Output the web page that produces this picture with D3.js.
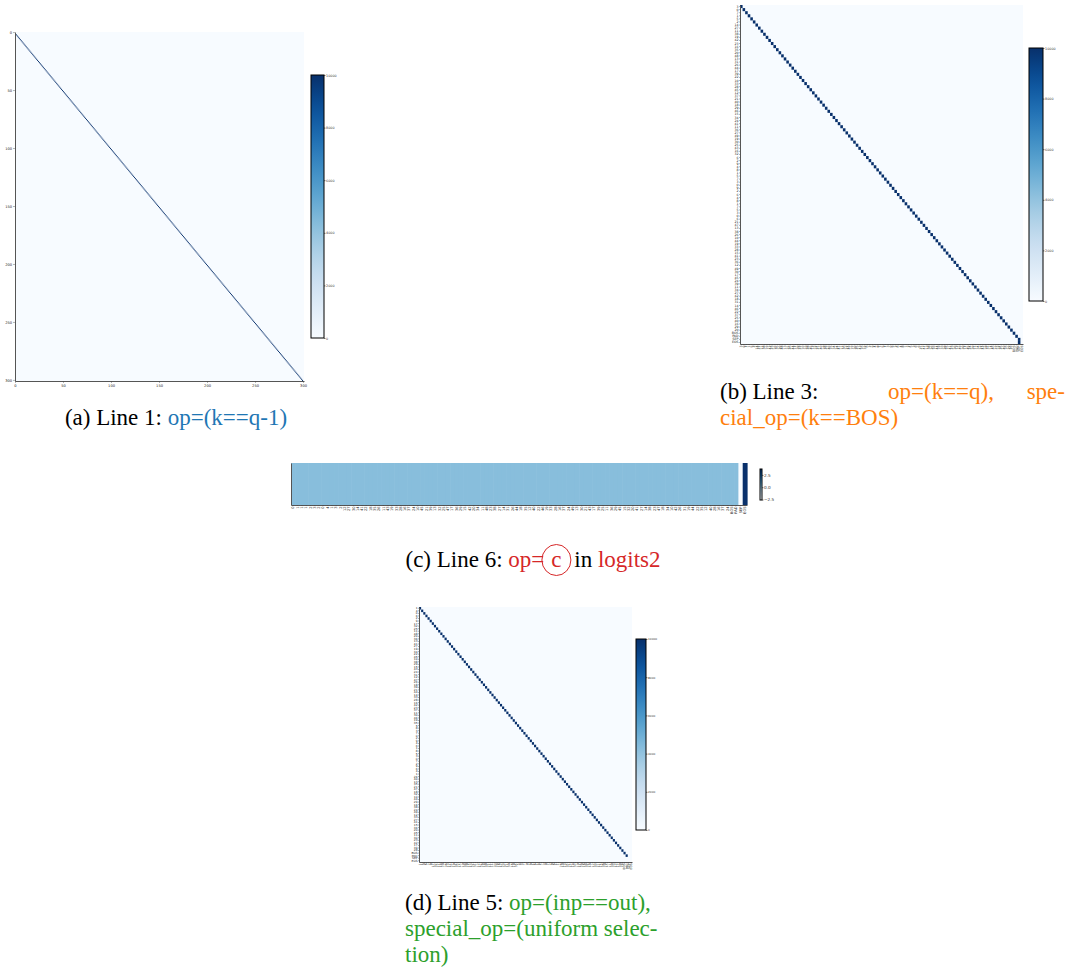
<!DOCTYPE html>
<html lang="en">
  <head>
    <meta charset="utf-8" />
    <title>Attention maps of the learned program</title>
    <script src="https://d3js.org/d3.v7.min.js"></script>
    <style type="text/css">
      body {
        margin: 0;
        background: #fff;
      }
      .cap {
        font-family: "Liberation Serif", "Times New Roman", serif;
        font-size: 23px;
        fill: #000;
      }
    </style>
  </head>
  <body>
    <script type="text/javascript">
      // ---------- data ----------
      // (a) 301 positions, every query q attends to key q-1
      const sizeA = 301;
      const shiftA = -1;
      const peakA = 10000;
      const ticksA = [0, 50, 100, 150, 200, 250, 300];
      const barTicks = [0, 2000, 4000, 6000, 8000, 10000];

      // (b) token labels, diagonal k==q and BOS fallback cell
      const tokensB = ("3 0 7 1 5 2 " +
        "14 27 11 38 19 42 23 16 35 20 48 13 31 26 44 17 39 22 10 33 28 45 12 37 21 40 18 29 46 15 34 24 41 11 36 27 49 19 30 25 43 16 32 " +
        "6 2 9 4 8 1 5 7 3 0 9 2 6 4 8 1 7 5 3 0 6 " +
        "21 47 13 38 26 10 44 19 33 28 15 41 23 36 12 49 30 17 45 24 39 11 34 27 42 18 31 14 46 22 37 25 40 16 29 20 " +
        "BOS PAD SEP EOS").split(" ");
      const diagLastB = 108;
      const extraB = [[109, 108, 10000]]; // [row, col, value]

      // (c) one row of logits
      const tokensC = ("0 1 1 1 2 3 2 0 4 1 3 2 " +
        "12 27 30 14 41 22 18 35 26 11 43 19 33 28 16 37 24 10 45 21 39 13 32 25 47 17 36 29 15 42 " +
        "20 34 11 48 23 38 27 14 31 26 44 18 35 12 40 22 46 19 33 28 16 37 24 49 13 30 21 43 17 39 " +
        "25 11 36 29 45 15 32 20 41 27 14 38 23 47 18 34 10 42 26 31 19 44 22 35 12 40 28 16 37 24 " +
        "BOS PAD SEP EOS").split(" ");
      const logitsC = [
        0.1, 0.1, 0.1, 0.1, 0.1, 0.1, 0.1, 0.1, 0.1, 0.1,
        0.1, 0.1, 0.1, 0.1, 0.1, 0.1, 0.1, 0.1, 0.1, 0.1,
        0.1, 0.1, 0.1, 0.1, 0.1, 0.1, 0.1, 0.1, 0.1, 0.1,
        0.1, 0.1, 0.1, 0.1, 0.1, 0.1, 0.1, 0.1, 0.1, 0.1,
        0.1, 0.1, 0.1, 0.1, 0.1, 0.1, 0.1, 0.1, 0.1, 0.1,
        0.1, 0.1, 0.1, 0.1, 0.1, 0.1, 0.1, 0.1, 0.1, 0.1,
        0.1, 0.1, 0.1, 0.1, 0.1, 0.1, 0.1, 0.1, 0.1, 0.1,
        0.1, 0.1, 0.1, 0.1, 0.1, 0.1, 0.1, 0.1, 0.1, 0.1,
        0.1, 0.1, 0.1, 0.1, 0.1, 0.1, 0.1, 0.1, 0.1, 0.1,
        0.1, 0.1, 0.1, 0.1, 0.1, 0.1, 0.1, 0.1, 0.1, 0.1,
        0.1, 0.1, 0.1, 0.1, -2.6, 3.7
      ];
      const rangeC = [-2.6, 3.7];
      const barTicksC = [-2.5, 0, 2.5];

      // (d) token labels, diagonal inp==out
      const tokensD = ("1 4 0 6 2 9 " +
        "17 32 25 11 48 20 36 13 41 27 19 34 22 45 10 38 29 15 43 24 31 12 47 26 18 39 21 44 14 33 28 16 42 23 37 11 30 46 19 35 " +
        "5 8 3 7 0 2 9 4 6 1 8 5 3 0 7 2 9 6 4 1 " +
        "26 40 13 35 21 47 18 32 10 44 29 16 38 24 49 12 33 27 41 15 36 20 45 11 30 23 42 17 39 28 " +
        "BOS PAD SEP EOS").split(" ");
      const diagLastD = 97;

      // ---------- helpers ----------
      const svg = d3.select("body").append("svg").attr("width", 1070).attr("height", 970);
      const defs = svg.append("defs");
      const tickFont = "DejaVu Sans";

      function styleAxis(g, fs) {
        g.attr("font-size", fs).attr("font-family", tickFont);
        g.select(".domain").attr("stroke", "#555").attr("stroke-width", 1);
        g.selectAll(".tick line").attr("stroke", "#444").attr("stroke-width", 0.4);
        g.selectAll(".tick text").attr("fill", "#222");
      }

      function heatPanel(o) {
        const g = svg.append("g");
        const x = d3.scaleBand().domain(d3.range(o.cols)).range([o.left, o.right]);
        const y = d3.scaleBand().domain(d3.range(o.rows)).range([o.top, o.bottom]);

        g.append("rect")
          .attr("x", o.left).attr("y", o.top)
          .attr("width", o.right - o.left).attr("height", o.bottom - o.top)
          .attr("fill", o.color(o.base));

        g.selectAll("rect.cell")
          .data(o.cells)
          .join("rect")
          .attr("class", "cell")
          .attr("x", (d) => x(d[1]))
          .attr("y", (d) => y(d[0]))
          .attr("width", x.bandwidth() + (o.overlap || 0))
          .attr("height", y.bandwidth())
          .attr("fill", (d) => o.color(d[2]));

        // x axis
        const ax = d3.axisBottom(x).tickSize(o.tick).tickSizeOuter(0).tickPadding(o.pad);
        if (o.xTicks) ax.tickValues(o.xTicks);
        if (o.xLabels) ax.tickFormat((i) => o.xLabels[i]);
        const gx = g.append("g").attr("transform", `translate(0,${o.bottom})`).call(ax);
        styleAxis(gx, o.fs);
        if (o.rotate) {
          gx.selectAll(".tick text")
            .attr("transform", "rotate(-90)")
            .attr("text-anchor", "end")
            .attr("x", -(o.tick + o.pad))
            .attr("y", 0)
            .attr("dy", "0.32em");
        }

        // y axis
        const ay = d3.axisLeft(y).tickSize(o.tick).tickSizeOuter(0).tickPadding(o.pad);
        if (o.yTicks) ay.tickValues(o.yTicks);
        if (o.yLabels) ay.tickFormat((i) => o.yLabels[i]);
        const gy = g.append("g").attr("transform", `translate(${o.left},0)`).call(ay);
        styleAxis(gy, o.fs);
        return { x, y };
      }

      function colorbar(o) {
        const id = "grad-" + o.name;
        const grad = defs.append("linearGradient")
          .attr("id", id)
          .attr("x1", 0).attr("y1", 1).attr("x2", 0).attr("y2", 0);
        const dom = o.color.domain();
        d3.range(0, 1.0001, 0.05).forEach((t) => {
          grad.append("stop")
            .attr("offset", t)
            .attr("stop-color", o.color(dom[0] + t * (dom[1] - dom[0])));
        });
        svg.append("rect")
          .attr("x", o.left).attr("y", o.top)
          .attr("width", o.width).attr("height", o.bottom - o.top)
          .attr("fill", `url(#${id})`)
          .attr("stroke", "#000").attr("stroke-width", 1);
        const s = d3.scaleLinear().domain(dom).range([o.bottom, o.top]);
        const g = svg.append("g")
          .attr("transform", `translate(${o.left + o.width},0)`)
          .call(d3.axisRight(s).tickValues(o.ticks).tickSize(1.5).tickPadding(0.6).tickFormat(o.fmt));
        g.select(".domain").remove();
        g.attr("font-size", o.fs).attr("font-family", tickFont);
        g.selectAll(".tick line").attr("stroke", "#000").attr("stroke-width", 0.5);
        g.selectAll(".tick text").attr("fill", "#333");
      }

      // ---------- (a) ----------
      const colorA = d3.scaleSequential(d3.interpolateBlues).domain([0, peakA]);
      const cellsA = d3.range(-shiftA, sizeA).map((q) => [q, q + shiftA, peakA]);
      heatPanel({
        rows: sizeA, cols: sizeA, left: 15, right: 304, top: 32, bottom: 381,
        color: colorA, base: 0, cells: cellsA,
        xTicks: ticksA, yTicks: ticksA, tick: 2, pad: 1, fs: 3.6
      });
      colorbar({
        name: "a", left: 311, width: 13, top: 75, bottom: 338,
        color: colorA, ticks: barTicks, fmt: d3.format("d"), fs: 3.3
      });

      // ---------- (b) ----------
      const colorB = d3.scaleSequential(d3.interpolateBlues).domain([0, peakA]);
      const cellsB = d3.range(0, diagLastB + 1).map((q) => [q, q, peakA]).concat(extraB);
      heatPanel({
        rows: tokensB.length, cols: tokensB.length, left: 740, right: 1023, top: 5, bottom: 344,
        color: colorB, base: 0, cells: cellsB,
        xLabels: tokensB, yLabels: tokensB, rotate: true, tick: 1, pad: 0.5, fs: 3.2
      });
      colorbar({
        name: "b", left: 1029, width: 14, top: 48, bottom: 301,
        color: colorB, ticks: barTicks, fmt: d3.format("d"), fs: 3.3
      });

      // ---------- (c) ----------
      const colorC = d3.scaleSequential(d3.interpolateBlues).domain(rangeC);
      const cellsC = logitsC.map((v, i) => [0, i, v]);
      heatPanel({
        rows: 1, cols: tokensC.length, left: 291, right: 747, top: 463, bottom: 505,
        color: colorC, base: rangeC[0], cells: cellsC, overlap: 0.6,
        xLabels: tokensC, yTicks: [], rotate: true, tick: 1, pad: 0.5, fs: 3.6
      });
      colorbar({
        name: "c", left: 760, width: 2, top: 469, bottom: 500,
        color: colorC, ticks: barTicksC, fmt: (v) => d3.format(".1f")(v).replace("-", "\u2212"), fs: 4.2
      });

      // ---------- (d) ----------
      const colorD = d3.scaleSequential(d3.interpolateBlues).domain([0, peakA]);
      const cellsD = d3.range(0, diagLastD + 1).map((q) => [q, q, peakA]);
      heatPanel({
        rows: tokensD.length, cols: tokensD.length, left: 419, right: 632, top: 607, bottom: 862,
        color: colorD, base: 0, cells: cellsD,
        xLabels: tokensD, yLabels: tokensD, rotate: true, tick: 1, pad: 0.5, fs: 2.9
      });
      colorbar({
        name: "d", left: 636, width: 10, top: 639, bottom: 830,
        color: colorD, ticks: barTicks, fmt: d3.format("d"), fs: 2.8
      });

      // ---------- captions ----------
      const blue = "#1f77b4", orange = "#ff7f0e", red = "#d62728", green = "#2ca02c";

      function caption(x, y, parts, anchor) {
        const t = svg.append("text").attr("class", "cap")
          .attr("x", x).attr("y", y)
          .attr("text-anchor", anchor || "start");
        parts.forEach((p) => {
          const s = t.append("tspan").attr("fill", p[1]).text(p[0]);
          if (p[2]) s.attr("dx", p[2]);
        });
        return t;
      }

      caption(176, 425, [["(a) Line 1: ", "#000"], ["op=(k==q-1)", blue]], "middle");

      caption(720, 399, [["(b) Line 3:", "#000"]]);
      caption(888, 399, [["op=(k==q),", orange]]);
      caption(1065, 399, [["spe-", orange]], "end");
      caption(720, 425, [["cial_op=(k==BOS)", orange]]);

      const capC = caption(533, 567, [
        ["(c) Line 6: ", "#000"], ["op=", red], ["c", red, 7], [" in ", "#000", 7], ["logits2", red]
      ], "middle");
      const cBox = capC.node().getExtentOfChar(15);
      svg.append("ellipse")
        .attr("cx", cBox.x + cBox.width / 2)
        .attr("cy", 560)
        .attr("rx", 14.5).attr("ry", 15.5)
        .attr("fill", "none").attr("stroke", red).attr("stroke-width", 1);

      caption(405, 910, [["(d) Line 5: ", "#000"], ["op=(inp==out),", green]]);
      caption(405, 936, [["special_op=(uniform selec-", green]]);
      caption(405, 962, [["tion)", green]]);
    </script>
  </body>
</html>
